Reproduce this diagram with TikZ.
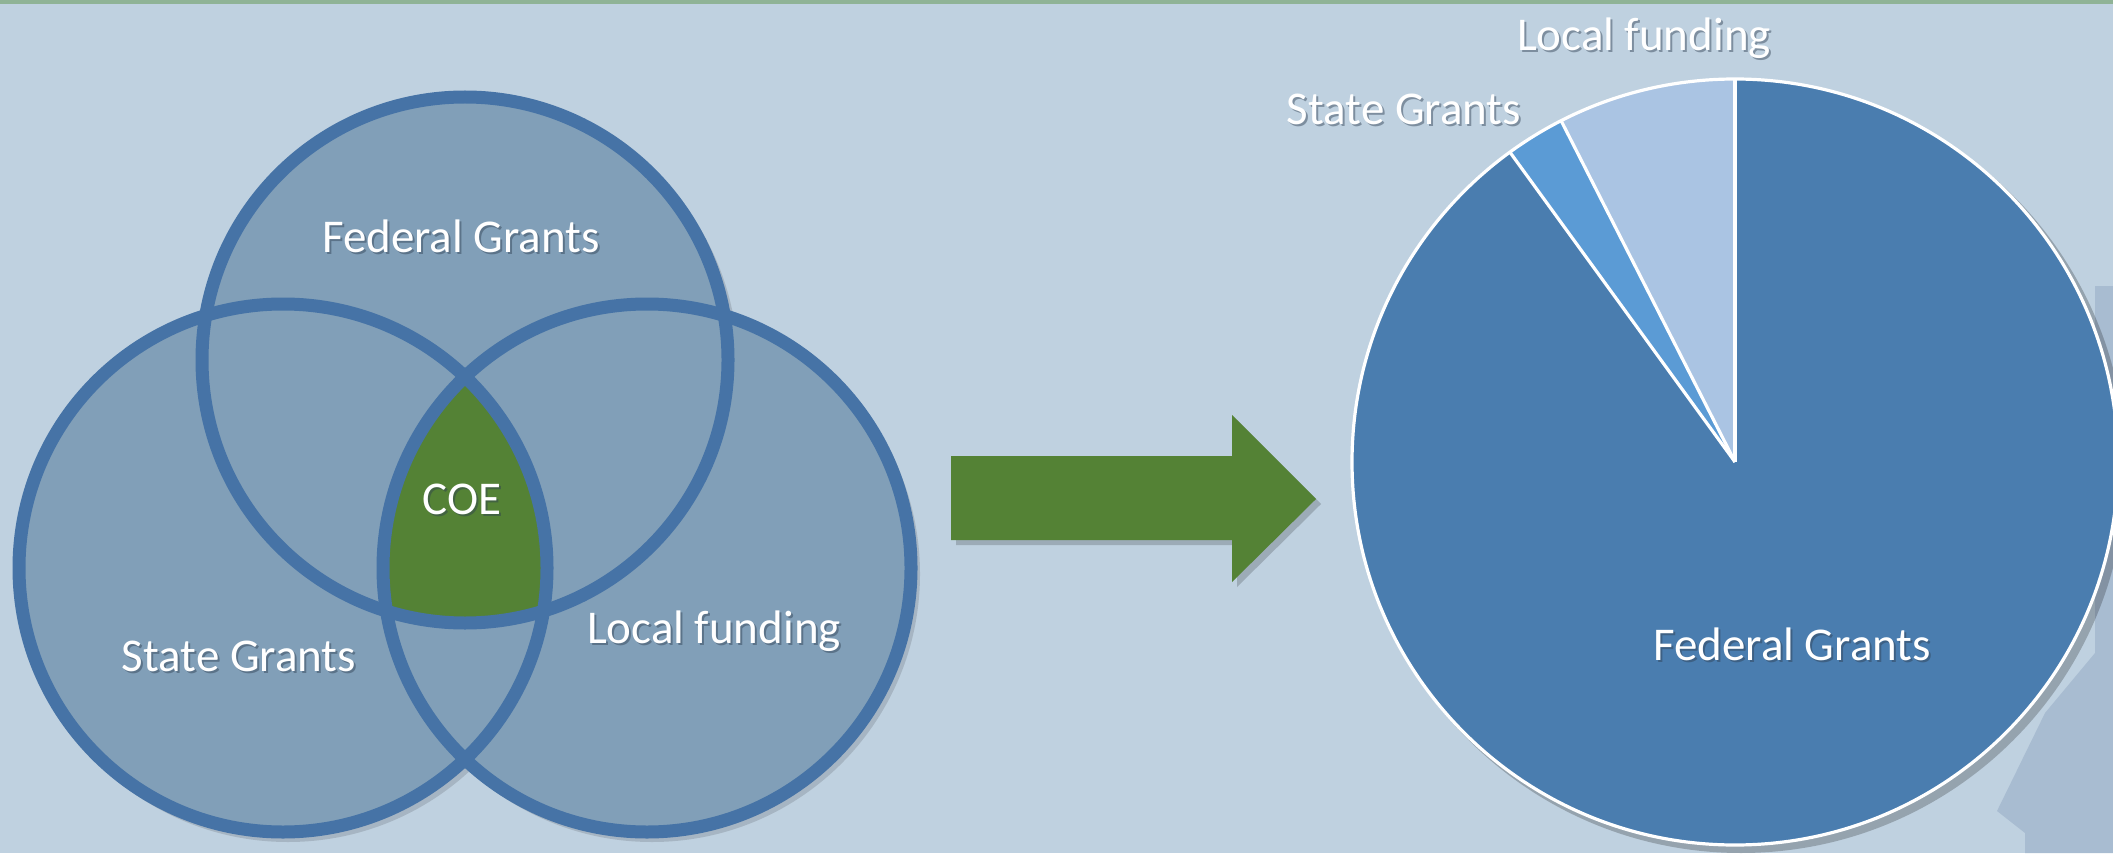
\documentclass[tikz,border=0pt]{standalone}
\usepackage{fontspec}
\setmainfont{Carlito}
\definecolor{bg}{HTML}{BFD1E0}
\definecolor{topline}{HTML}{8FB396}
\definecolor{vfill}{HTML}{819FB8}
\definecolor{vline}{HTML}{4673A6}
\definecolor{coe}{HTML}{548235}
\definecolor{pfed}{HTML}{4A7DAF}
\definecolor{pstate}{HTML}{5B9BD5}
\definecolor{plocal}{HTML}{AAC4E3}
\definecolor{deco}{HTML}{A8BCD1}
\definecolor{txtsh}{HTML}{2E3E50}
\begin{document}
\begin{tikzpicture}[x=0.5pt,y=0.5pt,
  lbl/.style={text=white, font=\fontsize{23.5}{28}\selectfont, inner sep=0pt},
  lblsh/.style={text=txtsh, opacity=0.45, font=\fontsize{23.5}{28}\selectfont, inner sep=0pt},
  vring/.style={draw=vline, line width=6.5pt},
  pieedge/.style={draw=white, line width=1.6pt},
  softshadow/.style={fill=black, opacity=0.13},
]
\useasboundingbox (0,0) rectangle (2113,853);
\fill[bg] (0,0) rectangle (2113,853);
\fill[topline] (0,849) rectangle (2113,853);
% background decoration at right edge
\fill[deco] (2095,567) -- (2113,567) -- (2113,0) -- (2025,0) -- (2025,20) -- (1997,42) -- (2045,140) -- (2095,200) -- cycle;

% ---------- Venn diagram ----------
\coordinate (cT) at (465,493);
\coordinate (cL) at (283,285);
\coordinate (cR) at (647,285);
\fill[softshadow] ([shift={(5,-6)}]cT) circle[radius=268] ([shift={(5,-6)}]cL) circle[radius=268] ([shift={(5,-6)}]cR) circle[radius=268];
\fill[vfill] (cT) circle[radius=264] (cL) circle[radius=264] (cR) circle[radius=264];
\begin{scope}
  \clip (cT) circle[radius=264];
  \clip (cL) circle[radius=264];
  \fill[coe] (cR) circle[radius=264];
\end{scope}
\draw[vring] (cT) circle[radius=263];
\draw[vring] (cL) circle[radius=264];
\draw[vring] (cR) circle[radius=264];

\node[lblsh] (fedVs) at (463,615) {Federal Grants};
\node[lbl]   (fedV)  at (461,617) {Federal Grants};
\node[lblsh] (staVs) at (241,195) {State Grants};
\node[lbl]   (staV)  at (239,197) {State Grants};
\node[lblsh] (locVs) at (716,220) {Local funding};
\node[lbl]   (locV)  at (714,222) {Local funding};
\node[lblsh] (coeVs) at (464,352) {COE};
\node[lbl]   (coeV)  at (462,354) {COE};

% ---------- arrow ----------
\fill[black, opacity=0.18] (956,392) -- (1237,392) -- (1237,433) -- (1321,349) -- (1237,266) -- (1237,308) -- (956,308) -- cycle;
\fill[coe] (951,397) -- (1232,397) -- (1232,438) -- (1316,354) -- (1232,271) -- (1232,313) -- (951,313) -- cycle;

% ---------- pie chart ----------
\coordinate (pc) at (1735,391);
\fill[softshadow, opacity=0.22] ([shift={(6,-6)}]pc) circle[radius=385];
\fill[pfed]   (pc) -- ++(126:383) arc[start angle=126, end angle=450, radius=383] -- cycle;
\fill[pstate] (pc) -- ++(117:383) arc[start angle=117, end angle=126, radius=383] -- cycle;
\fill[plocal] (pc) -- ++(90:383) arc[start angle=90, end angle=117, radius=383] -- cycle;
\draw[pieedge] (pc) circle[radius=383];
\draw[pieedge] (pc) -- ++(90:383);
\draw[pieedge] (pc) -- ++(117:383);
\draw[pieedge] (pc) -- ++(126:383);

\node[lblsh] (locPs) at (1646,813) {Local funding};
\node[lbl]   (locP)  at (1644,815) {Local funding};
\node[lblsh] (staPs) at (1406,742) {State Grants};
\node[lbl]   (staP)  at (1404,744) {State Grants};
\node[lblsh] (fedPs) at (1794,207) {Federal Grants};
\node[lbl]   (fedP)  at (1792,209) {Federal Grants};
\end{tikzpicture}
\end{document}
